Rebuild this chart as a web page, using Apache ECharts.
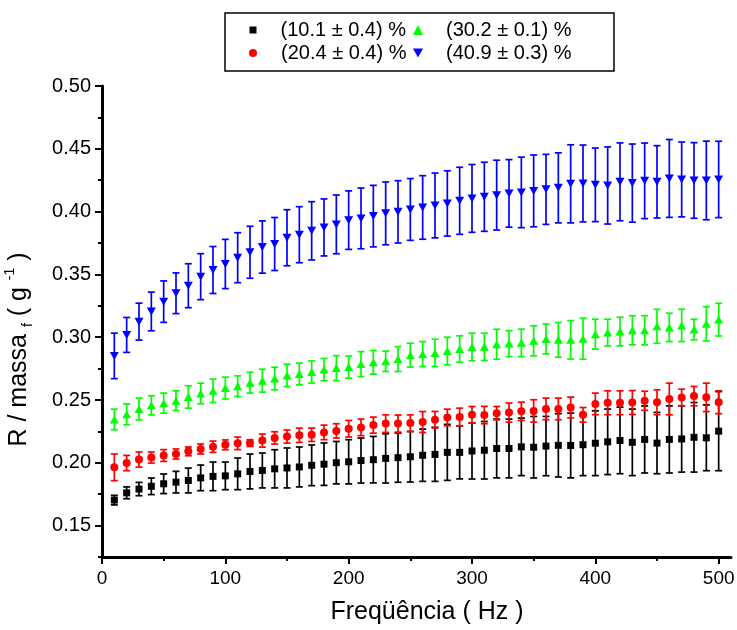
<!DOCTYPE html>
<html>
<head>
<meta charset="utf-8">
<script src="https://cdn.jsdelivr.net/npm/echarts@6/dist/echarts.min.js"></script>
<style>
html,body{margin:0;padding:0;background:#fff;}
#chart{width:737px;height:630px;}
</style>
</head>
<body>
<div id="chart"></div>
<script>
var freq = [10,20,30,40,50,60,70,80,90,100,110,120,130,140,150,160,170,180,190,200,210,220,230,240,250,260,270,280,290,300,310,320,330,340,350,360,370,380,390,400,410,420,430,440,450,460,470,480,490,500];

var seriesNames = ['(10.1 ± 0.4) %', '(20.4 ± 0.4) %', '(30.2 ± 0.1) %', '(40.9 ± 0.3) %'];

var blackY = [0.1703,0.1761,0.1791,0.1813,0.1833,0.1846,0.1859,0.188,0.1892,0.1896,0.1912,0.1931,0.1939,0.1952,0.1959,0.1967,0.198,0.1989,0.2001,0.2008,0.2018,0.2025,0.2035,0.2041,0.2048,0.206,0.2067,0.2083,0.2083,0.2094,0.21,0.2114,0.2114,0.2127,0.2124,0.2133,0.2139,0.2138,0.2144,0.2156,0.2167,0.2178,0.2163,0.2186,0.2157,0.2186,0.219,0.2203,0.2199,0.2252];
var blackErr = [0.0038,0.0047,0.0053,0.0066,0.0078,0.0086,0.0099,0.0102,0.0114,0.011,0.0126,0.0139,0.0139,0.0152,0.0159,0.0159,0.0162,0.0169,0.0169,0.0176,0.0179,0.0185,0.0196,0.0196,0.0201,0.0208,0.0215,0.0223,0.0211,0.0223,0.0229,0.0234,0.0234,0.0229,0.0245,0.0236,0.0252,0.0258,0.0246,0.0258,0.0261,0.0265,0.0265,0.0267,0.0244,0.0267,0.0264,0.0277,0.0262,0.0315];

var redY = [0.1964,0.1998,0.2026,0.2042,0.2058,0.207,0.2091,0.211,0.2128,0.2143,0.2155,0.2157,0.2177,0.2198,0.2209,0.2219,0.2223,0.2242,0.2254,0.2271,0.2282,0.23,0.2312,0.2312,0.2316,0.2325,0.2343,0.2361,0.2365,0.2382,0.238,0.2395,0.24,0.241,0.2413,0.2429,0.2429,0.244,0.2382,0.2469,0.2478,0.2478,0.248,0.2494,0.2482,0.2508,0.252,0.2531,0.2521,0.2482];
var redErr = [0.0106,0.0061,0.006,0.0044,0.0047,0.004,0.0035,0.004,0.0045,0.0039,0.005,0.0027,0.0052,0.0049,0.0052,0.0057,0.0053,0.0058,0.0057,0.0066,0.0066,0.0064,0.007,0.0068,0.0066,0.0083,0.0066,0.0066,0.007,0.0066,0.0069,0.0053,0.0076,0.0073,0.0089,0.0086,0.0086,0.0083,0.0058,0.0086,0.0095,0.0095,0.0095,0.0076,0.0099,0.0126,0.0066,0.0077,0.0113,0.0091];

var greenY = [0.2345,0.2386,0.2428,0.2458,0.2475,0.2495,0.2524,0.2552,0.2573,0.2595,0.261,0.2638,0.2654,0.2671,0.2696,0.2707,0.2723,0.2742,0.2754,0.2762,0.2786,0.28,0.2808,0.2826,0.2857,0.2866,0.2875,0.289,0.2906,0.2922,0.2923,0.2944,0.2949,0.2955,0.2971,0.2986,0.2979,0.2979,0.2988,0.3024,0.3037,0.3045,0.3055,0.3055,0.3087,0.3078,0.3094,0.3061,0.3107,0.314];
var greenErr = [0.0082,0.0083,0.0087,0.0076,0.008,0.0078,0.0089,0.0082,0.0093,0.0087,0.0082,0.0083,0.0091,0.009,0.0089,0.0086,0.0088,0.0089,0.0099,0.0088,0.0099,0.0094,0.0081,0.0099,0.0095,0.0099,0.0109,0.011,0.0105,0.011,0.0109,0.0119,0.0103,0.0109,0.0119,0.0119,0.0138,0.0153,0.0163,0.0119,0.0106,0.0114,0.0116,0.0116,0.0135,0.0113,0.0129,0.0082,0.0136,0.013];

var blueY = [0.2851,0.3018,0.3124,0.3205,0.3283,0.335,0.341,0.3482,0.3535,0.3583,0.3633,0.3676,0.3718,0.3742,0.3792,0.3816,0.3847,0.3874,0.3898,0.3932,0.3946,0.3964,0.3986,0.3998,0.4017,0.4033,0.4049,0.4065,0.4086,0.4105,0.4118,0.4131,0.4145,0.4153,0.4165,0.4177,0.4189,0.4221,0.4224,0.4213,0.4208,0.4237,0.4227,0.4245,0.4237,0.4264,0.4256,0.4248,0.4248,0.4256];
var blueErr = [0.0181,0.0139,0.0147,0.0154,0.0165,0.0162,0.0175,0.0183,0.0187,0.0196,0.0199,0.0207,0.0208,0.0211,0.0223,0.0223,0.0232,0.0227,0.0234,0.0233,0.0242,0.0245,0.025,0.0248,0.0246,0.0253,0.0258,0.026,0.0267,0.027,0.0275,0.0278,0.0269,0.0281,0.0286,0.0279,0.0279,0.0311,0.0306,0.0293,0.0307,0.031,0.0311,0.0301,0.0288,0.031,0.0298,0.0301,0.0313,0.0304];

var xMajorTicks = [0,100,200,300,400,500];
var xMinorTicks = [50,150,250,350,450];
var yMajorTicks = [0.15,0.20,0.25,0.30,0.35,0.40,0.45,0.50];
var yMinorTicks = [0.125,0.175,0.225,0.275,0.325,0.375,0.425,0.475];

var colors = ['#000000', '#ff0000', '#00ff00', '#0000ff'];
var FONT = 'Liberation Sans, Arial, sans-serif';
var DOWN_TRIANGLE = 'path://M0,0 L10,0 L5,9 Z';

function zip3(xs, ys, es) {
  var out = [];
  for (var i = 0; i < xs.length; i++) out.push([xs[i], ys[i], es[i]]);
  return out;
}
function zip2(xs, ys) {
  var out = [];
  for (var i = 0; i < xs.length; i++) out.push([xs[i], ys[i]]);
  return out;
}

function errorBarSeries(color, data) {
  return {
    type: 'custom',
    silent: true,
    z: 2,
    data: data,
    encode: { x: 0, y: [1] },
    renderItem: function (params, api) {
      var x = api.value(0), y = api.value(1), e = api.value(2);
      var top = api.coord([x, y + e]);
      var bot = api.coord([x, y - e]);
      var hw = 3.5;
      var st = { stroke: color, lineWidth: 1.7 };
      return {
        type: 'group',
        children: [
          { type: 'line', shape: { x1: top[0], y1: top[1], x2: bot[0], y2: bot[1] }, style: st },
          { type: 'line', shape: { x1: top[0] - hw, y1: top[1], x2: top[0] + hw, y2: top[1] }, style: st },
          { type: 'line', shape: { x1: bot[0] - hw, y1: bot[1], x2: bot[0] + hw, y2: bot[1] }, style: st }
        ]
      };
    }
  };
}

var sets = [
  { name: seriesNames[0], y: blackY, e: blackErr, symbol: 'rect', size: 7 },
  { name: seriesNames[1], y: redY, e: redErr, symbol: 'circle', size: 8 },
  { name: seriesNames[2], y: greenY, e: greenErr, symbol: 'triangle', size: [9, 8] },
  { name: seriesNames[3], y: blueY, e: blueErr, symbol: DOWN_TRIANGLE, size: [9, 8] }
];

var series = [];
sets.forEach(function (s, i) {
  series.push(errorBarSeries(colors[i], zip3(freq, s.y, s.e)));
});
sets.forEach(function (s, i) {
  series.push({
    type: 'scatter',
    name: s.name,
    data: zip2(freq, s.y),
    symbol: s.symbol,
    symbolSize: s.size,
    symbolKeepAspect: false,
    itemStyle: { color: colors[i], opacity: 1 },
    z: 5
  });
});

function legendFor(idx, left, top, iconSize, padLeft) {
  return {
    show: true,
    data: [{ name: seriesNames[idx], icon: sets[idx].symbol, itemStyle: { color: colors[idx] } }],
    left: left,
    top: top,
    padding: 0,
    itemWidth: iconSize,
    itemHeight: iconSize,
    selectedMode: false,
    textStyle: { fontFamily: FONT, fontSize: 20, color: '#000', padding: [0, 0, 0, padLeft] }
  };
}

var axisLineStyle = { color: '#000', width: 3 };

var option = {
  animation: false,
  backgroundColor: '#ffffff',
  grid: { left: 102, right: 6, top: 86, bottom: 73, containLabel: false, outerBoundsMode: 'none' },
  legend: [
    legendFor(0, 249.5, 20, 7, 19),
    legendFor(1, 249, 43, 8, 19),
    legendFor(2, 413, 20, 10, 18),
    legendFor(3, 413, 43, 10, 18)
  ],
  graphic: [
    { type: 'rect', left: 222.5, top: 10.5, shape: { width: 389, height: 58 }, style: { fill: 'none', stroke: '#000', lineWidth: 1.5 }, silent: true }
  ],
  xAxis: [
    {
      type: 'value', min: 0, max: 510, interval: 10,
      position: 'bottom',
      name: 'Freqüência ( Hz )',
      nameLocation: 'middle',
      nameGap: 43,
      nameTextStyle: { fontFamily: FONT, fontSize: 25, color: '#000', padding: [0, 0, 0, 21] },
      axisLine: { show: true, onZero: false, lineStyle: axisLineStyle },
      axisTick: { show: true, inside: false, length: 7, lineStyle: { color: '#000', width: 2 }, customValues: xMajorTicks },
      axisLabel: { show: true, margin: 12, fontFamily: FONT, fontSize: 19, color: '#000', customValues: xMajorTicks },
      splitLine: { show: false },
      minorTick: { show: false }
    },
    {
      type: 'value', min: 0, max: 510, interval: 10,
      position: 'bottom',
      axisLine: { show: false },
      axisTick: { show: true, inside: false, length: 4, lineStyle: { color: '#000', width: 2 }, customValues: xMinorTicks },
      axisLabel: { show: false },
      splitLine: { show: false }
    }
  ],
  yAxis: [
    {
      type: 'value', min: 0.125, max: 0.5, interval: 0.025,
      position: 'left',
      name: 'R / massa {sub|f} ( g {sup|-1} )',
      nameLocation: 'middle',
      nameGap: 67,
      nameTextStyle: {
        fontFamily: FONT, fontSize: 25, color: '#000', lineHeight: 32,
        padding: [0, 56, 0, 0],
        rich: {
          sub: { fontFamily: FONT, fontSize: 14, color: '#000', verticalAlign: 'bottom', lineHeight: 14 },
          sup: { fontFamily: FONT, fontSize: 14, color: '#000', verticalAlign: 'top', lineHeight: 14 }
        }
      },
      axisLine: { show: true, onZero: false, lineStyle: axisLineStyle },
      axisTick: { show: true, inside: false, length: 7, lineStyle: { color: '#000', width: 2 }, customValues: yMajorTicks },
      axisLabel: {
        show: true, margin: 11, fontFamily: FONT, fontSize: 20, color: '#000', customValues: yMajorTicks,
        formatter: function (v) { return v.toFixed(2); }
      },
      splitLine: { show: false },
      minorTick: { show: false }
    },
    {
      type: 'value', min: 0.125, max: 0.5, interval: 0.025,
      position: 'left',
      axisLine: { show: false },
      axisTick: { show: true, inside: false, length: 4, lineStyle: { color: '#000', width: 2 }, customValues: yMinorTicks },
      axisLabel: { show: false },
      splitLine: { show: false }
    }
  ],
  series: series
};

var chart = echarts.init(document.getElementById('chart'), null, { renderer: 'canvas' });
chart.setOption(option);
</script>
</body>
</html>
